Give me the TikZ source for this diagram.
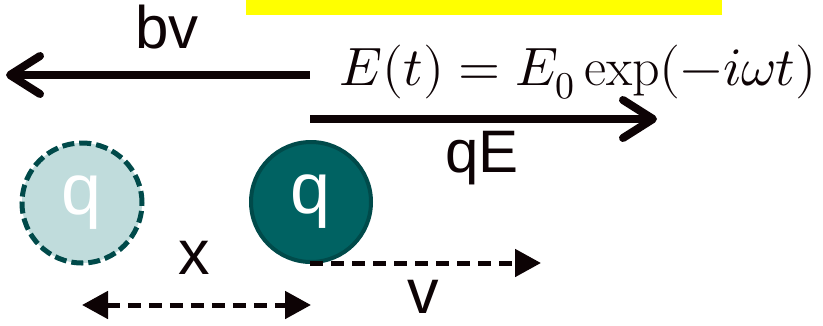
\documentclass[tikz,border=0pt]{standalone}
\usepackage{fontspec}
\usepackage{unicode-math}
\setmathfont{Latin Modern Math}
\newfontfamily\arialf{Liberation Sans}
\usetikzlibrary{arrows.meta}
\definecolor{ink}{HTML}{0D0305}
\definecolor{teal}{HTML}{006262}
\definecolor{tealdark}{HTML}{004A4A}
\definecolor{teallight}{HTML}{C0DCDC}
\definecolor{hl}{HTML}{FFFF00}
\tikzset{tri/.tip={Triangle[length=26pt,width=27pt]}}
\begin{document}
\begin{tikzpicture}[x=1pt,y=-1pt,
  force/.style={draw=ink,line width=8pt,-{Straight Barb[length=30pt,width=38pt,round]}},
  dasharrow/.style={draw=ink,line width=5pt,dash pattern=on 13pt off 8pt},
  lab/.style={text=ink,inner sep=0pt,font=\arialf\fontsize{60}{60}\selectfont},
  smalllab/.style={text=ink,inner sep=0pt,font=\arialf\fontsize{63}{63}\selectfont},
  charge/.style={circle,minimum size=120pt,inner sep=0pt,text=white,font=\arialf\fontsize{72}{72}\selectfont}]
\useasboundingbox (0,0) rectangle (823,325);
% highlighted (cropped) box
\fill[hl] (246,-5) rectangle (722,15);
% charges
\node[charge,fill=teallight,draw=tealdark,line width=5pt,dash pattern=on 12pt off 5pt] (q1) at (82,203) {q};
\node[charge,fill=teal,draw=tealdark,line width=4pt] (q2) at (311,202) {q};
% force arrows
\coordinate (o1) at (310,75);
\coordinate (bvend) at (6,75);
\draw[force] (o1) -- (bvend);
\coordinate (o2) at (310,119);
\coordinate (qeend) at (657,119);
\draw[force] (o2) -- (qeend);
\node[lab] (bv) at (167,27) {bv};
\node[lab] (qE) at (482,158) {qE};
\node[text=ink,inner sep=0pt,font=\fontsize{54}{54}\selectfont] (Et) at (578,72) {$E(t) = E_0\exp(-i\omega t)$};
% velocity
\coordinate (vs) at (310,263);
\coordinate (ve) at (541,263);
\draw[dasharrow,-tri] (vs) -- (ve);
\node[smalllab] (v) at (423,297) {v};
% displacement
\coordinate (xa) at (82,305);
\coordinate (xb) at (311,305);
\draw[dasharrow,tri-tri] (xa) -- (xb);
\node[smalllab] (x) at (194,258) {x};
\end{tikzpicture}
\end{document}
